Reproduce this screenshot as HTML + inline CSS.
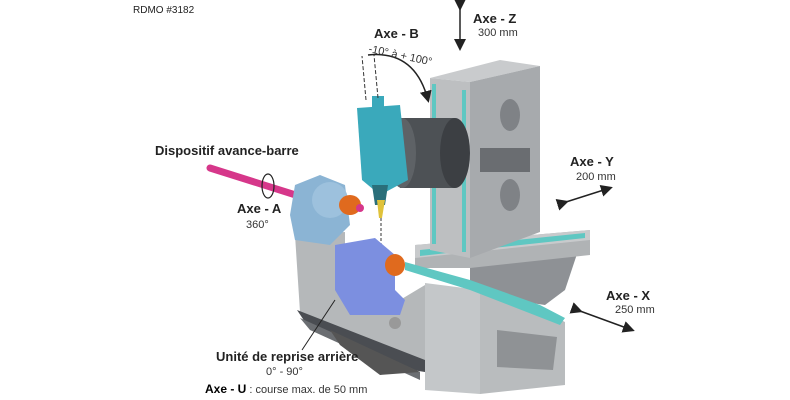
<!DOCTYPE html>
<html><head><meta charset="utf-8"><style>
html,body{margin:0;padding:0;background:#fff;}
svg{display:block}
text{font-family:"Liberation Sans",sans-serif;}
.b{font-weight:bold;font-size:13px;fill:#222}
.s{font-size:11px;fill:#333}
</style></head><body>
<svg width="790" height="400" viewBox="0 0 790 400">
<defs>
<marker id="ar" markerWidth="8" markerHeight="8" refX="6" refY="4" orient="auto"><path d="M0,0 L8,4 L0,8 z" fill="#222"/></marker>
</defs>
<text x="133" y="13" font-family="Liberation Mono" font-size="10" fill="#222">RDMO #3182</text>

<!-- hopper under table -->
<polygon points="470,255 580,245 565,290 545,305 510,300 470,285" fill="#8e9195"/>
<!-- lower table -->
<polygon points="415,245 590,230 590,255 470,268 415,268" fill="#b0b3b5"/>
<polygon points="415,245 590,230 590,240 415,258" fill="#c8cacc"/>
<polygon points="420,250 585,233 585,238 420,256" fill="#5fc7c2"/>

<!-- bed: left block -->
<polygon points="295,235 345,232 345,300 400,300 425,285 425,368 380,362 300,312" fill="#b5b8ba"/>
<polygon points="297,310 425,360 425,372 380,365 305,322" fill="#4a4d52"/>
<polygon points="300,318 420,372 420,380 310,330" fill="#6b6e72"/>
<polygon points="330,330 420,372 380,375 340,345" fill="#555"/>
<!-- front panel -->
<polygon points="425,283 480,290 480,394 425,390" fill="#c4c7c9"/>
<!-- right frame -->
<polygon points="480,290 520,300 565,322 565,385 480,394" fill="#b9bcbe"/>
<polygon points="497,330 557,337 553,370 497,367" fill="#8f9295"/>
<polygon points="405,262 470,280 540,305 565,318 560,325 470,290 405,270" fill="#5fc7c2"/>
<circle cx="395" cy="323" r="6" fill="#999"/>

<!-- column -->
<polygon points="430,78 500,60 540,66 470,82" fill="#c9cbcd"/>
<polygon points="470,82 540,66 540,232 470,258" fill="#a7aaad"/>
<polygon points="430,78 470,82 470,258 430,250" fill="#bdbfc1"/>
<rect x="432" y="84" width="4" height="160" fill="#5fc7c2"/>
<rect x="462" y="90" width="4" height="162" fill="#5fc7c2"/>
<ellipse cx="510" cy="115" rx="10" ry="16" fill="#7f8286"/>
<ellipse cx="510" cy="195" rx="10" ry="16" fill="#7f8286"/>
<rect x="480" y="148" width="50" height="24" fill="#6a6d71"/>

<!-- motor -->
<rect x="400" y="118" width="55" height="70" fill="#4d5155"/>
<ellipse cx="455" cy="153" rx="15" ry="35" fill="#3c3f43"/>
<ellipse cx="402" cy="153" rx="14" ry="35" fill="#5e6266"/>

<!-- spindle -->
<polygon points="357,108 400,105 408,180 380,195 362,180" fill="#3aa9bb"/>
<rect x="372" y="96" width="12" height="14" fill="#3aa9bb"/>
<polygon points="372,185 388,185 385,205 375,205" fill="#2a6f7a"/>
<polygon points="377,200 385,200 382,218 379,218" fill="#e0c23a"/>
<line x1="381" y1="218" x2="381" y2="250" stroke="#333" stroke-width="1" stroke-dasharray="3,2"/>
<line x1="378" y1="98" x2="374" y2="55" stroke="#333" stroke-width="1" stroke-dasharray="4,2"/>
<line x1="366" y1="100" x2="362" y2="56" stroke="#333" stroke-width="1" stroke-dasharray="4,2"/>
<path d="M368,55 Q415,50 428,100" fill="none" stroke="#222" stroke-width="1.5" marker-end="url(#ar)"/>

<!-- bar feeder -->
<line x1="210" y1="168" x2="302" y2="197" stroke="#d6378a" stroke-width="7" stroke-linecap="round"/>
<ellipse cx="268" cy="186" rx="6" ry="12" fill="none" stroke="#222" stroke-width="1.2"/>
<!-- headstock -->
<polygon points="295,185 320,175 345,185 350,225 330,245 295,240 290,215" fill="#8bb4d4"/>
<circle cx="330" cy="200" r="18" fill="#9dc1dd"/>
<ellipse cx="350" cy="205" rx="11" ry="10" fill="#e06a1e"/>
<ellipse cx="360" cy="208" rx="4" ry="4" fill="#d6378a"/>
<!-- back unit -->
<polygon points="335,245 375,238 395,255 395,290 405,300 400,315 350,315 335,290" fill="#7c8fe0"/>
<ellipse cx="395" cy="265" rx="10" ry="11" fill="#e06a1e"/>
<line x1="335" y1="300" x2="302" y2="350" stroke="#222" stroke-width="1"/>

<!-- axis arrows -->
<line x1="460" y1="8" x2="460" y2="48" stroke="#222" stroke-width="1.5" marker-end="url(#ar)" marker-start="url(#ar)"/>
<line x1="566" y1="202" x2="610" y2="188" stroke="#222" stroke-width="1.5" marker-end="url(#ar)" marker-start="url(#ar)"/>
<line x1="580" y1="311" x2="632" y2="330" stroke="#222" stroke-width="1.5" marker-end="url(#ar)" marker-start="url(#ar)"/>

<!-- labels -->
<text class="b" x="473" y="23">Axe - Z</text>
<text class="s" x="478" y="36">300 mm</text>
<text class="b" x="374" y="38">Axe - B</text>
<text class="s" x="368" y="52" transform="rotate(12 368 52)">-10° à + 100°</text>
<text class="b" x="155" y="155">Dispositif avance-barre</text>
<text class="b" x="237" y="213">Axe - A</text>
<text class="s" x="246" y="228">360°</text>
<text class="b" x="570" y="166">Axe - Y</text>
<text class="s" x="576" y="180">200 mm</text>
<text class="b" x="606" y="300">Axe - X</text>
<text class="s" x="615" y="313">250 mm</text>
<text class="b" x="216" y="361">Unité de reprise arrière</text>
<text class="s" x="266" y="375">0° - 90°</text>
<text x="205" y="393" font-size="12"><tspan font-weight="bold">Axe - U</tspan><tspan font-size="11" fill="#333"> : course max. de 50 mm</tspan></text>
</svg>
</body></html>
